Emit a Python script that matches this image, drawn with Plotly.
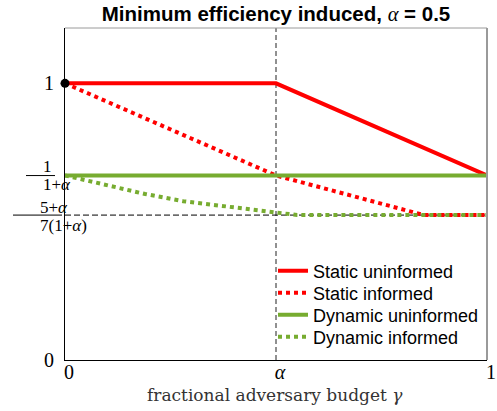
import plotly.graph_objects as go

alpha = 0.5
y_dyn = 1 / (1 + alpha)                  # 1/(1+alpha)
y_low = (5 + alpha) / (7 * (1 + alpha))  # (5+alpha)/(7(1+alpha))

gamma_static_unf = [0, 0.5, 1]
eff_static_unf = [1, 1, 0.667]

gamma_static_inf = [0, 0.5, 0.85, 1]
eff_static_inf = [1, 0.667, 0.524, 0.524]

gamma_dyn_unf = [0, 1]
eff_dyn_unf = [0.667, 0.667]

gamma_dyn_inf = [0, 0.09, 0.19, 0.28, 0.39, 0.49, 0.55, 1]
eff_dyn_inf = [0.667, 0.634, 0.600, 0.574, 0.553, 0.536, 0.524, 0.524]

x_tickvals = [0, alpha, 1]
x_ticktext = ["0", "<i>α</i>", "1"]
y_tickvals = [0, 1]
y_ticktext = ["0", "1"]

YMAX = 1.2
RED = "#FF0000"
GREEN = "#77AC30"
SERIF = "Liberation Serif, Times New Roman, serif"
SANS = "Liberation Sans, Arial, sans-serif"

WIN_W, WIN_H = 497, 411
L, R, T, B = 65, 487, 28, 360          # plot area in pixels
PW, PH = R - L, B - T


def px_x(px):
    return (px - L) / PW


def px_y(py):
    return (B - py) / PH


fig = go.Figure()

fig.add_trace(go.Scatter(x=gamma_static_unf, y=eff_static_unf, mode="lines",
                         name="Static uninformed", line=dict(color=RED, width=4),
                         legend="legend"))
fig.add_trace(go.Scatter(x=gamma_static_inf, y=eff_static_inf, mode="lines",
                         name="Static informed", line=dict(color=RED, width=4, dash="dot"),
                         legend="legend2"))
fig.add_trace(go.Scatter(x=gamma_dyn_unf, y=eff_dyn_unf, mode="lines",
                         name="Dynamic uninformed", line=dict(color=GREEN, width=4),
                         legend="legend3"))
fig.add_trace(go.Scatter(x=gamma_dyn_inf, y=eff_dyn_inf, mode="lines",
                         name="Dynamic informed", line=dict(color=GREEN, width=4, dash="dot"),
                         legend="legend4"))
fig.add_trace(go.Scatter(x=[0], y=[1], mode="markers", showlegend=False,
                         marker=dict(color="black", size=9), cliponaxis=False))

shapes = [
    dict(type="line", xref="x", yref="y", x0=alpha, x1=alpha, y0=0, y1=YMAX,
         line=dict(color="#222222", width=1, dash="5px,3px"), layer="below"),
    dict(type="line", xref="x", yref="y", x0=0, x1=1, y0=y_low, y1=y_low,
         line=dict(color="black", width=1, dash="6px,3px"), layer="below"),
    dict(type="line", xref="paper", yref="paper", x0=0, x1=1, y0=1, y1=1,
         line=dict(color="#9a9a9a", width=1)),
    dict(type="line", xref="paper", yref="paper", x0=1, x1=1, y0=0, y1=1,
         line=dict(color="#9a9a9a", width=2)),
    dict(type="line", xref="paper", yref="paper", x0=px_x(26), x1=px_x(55),
         y0=y_dyn / YMAX, y1=y_dyn / YMAX, line=dict(color="black", width=1)),
    dict(type="line", xref="paper", yref="paper", x0=px_x(13), x1=px_x(62),
         y0=y_low / YMAX, y1=y_low / YMAX, line=dict(color="black", width=1)),
]

frac_font = dict(family=SERIF, size=17, color="black")
annotations = [
    dict(text="1", x=px_x(40.5), y=y_dyn / YMAX, xref="paper", yref="paper",
         showarrow=False, yshift=9, font=frac_font),
    dict(text="1+<i>α</i>", x=px_x(40.5), y=y_dyn / YMAX, xref="paper", yref="paper",
         showarrow=False, yshift=-9, font=frac_font),
    dict(text="5+<i>α</i>", x=px_x(37.5), y=y_low / YMAX, xref="paper", yref="paper",
         showarrow=False, yshift=8, font=frac_font),
    dict(text="7(1+<i>α</i>)", x=px_x(37.5), y=y_low / YMAX, xref="paper", yref="paper",
         showarrow=False, yshift=-10, font=frac_font),
    # x-axis title
    dict(text="fractional adversary budget <i>γ</i>", x=px_x(275), y=px_y(395),
         xref="paper", yref="paper", xanchor="center", yanchor="middle", showarrow=False,
         font=dict(family="DejaVu Serif, serif", size=17, color="#333333")),
]

leg_common = dict(x=px_x(273), xanchor="left", yanchor="middle",
                  bgcolor="rgba(0,0,0,0)", borderwidth=0,
                  font=dict(family=SANS, size=18, color="black"))
leg_centers = [271, 293, 315, 337]

fig.update_layout(
    width=WIN_W, height=WIN_H,
    margin=dict(l=L, r=WIN_W - R, t=T, b=WIN_H - B, autoexpand=False),
    paper_bgcolor="white", plot_bgcolor="white",
    title=dict(
        text="<b>Minimum efficiency induced, </b><span style=\"font-family:Liberation Serif;font-style:italic\">α</span><b> = 0.5</b>",
        x=0.5, xref="paper", xanchor="center",
        y=1 - 14 / WIN_H, yref="container", yanchor="middle",
        font=dict(family=SANS, size=20.5, color="black")),
    xaxis=dict(range=[0, 1], tickvals=x_tickvals, ticktext=x_ticktext, showgrid=False,
               zeroline=False, showline=True, linecolor="black", linewidth=1, ticks="",
               automargin=False, ticklabeloverflow="allow",
               tickfont=dict(family=SERIF, size=20, color="black"), ticklabelshift=4,
               ticklabelstandoff=-6),
    yaxis=dict(range=[0, YMAX], tickvals=y_tickvals, ticktext=y_ticktext, showgrid=False,
               zeroline=False, showline=True, linecolor="black", linewidth=1, ticks="",
               automargin=False,
               tickfont=dict(family=SERIF, size=20, color="black"), ticklabelstandoff=6),
    legend=dict(y=px_y(leg_centers[0]), **leg_common),
    legend2=dict(y=px_y(leg_centers[1]), **leg_common),
    legend3=dict(y=px_y(leg_centers[2]), **leg_common),
    legend4=dict(y=px_y(leg_centers[3]), **leg_common),
    shapes=shapes,
    annotations=annotations,
)

# remove the browser's default 8px body margin so the figure fills the window
fig.write_html("out.html", config={"displayModeBar": False},
               post_script="document.body.style.margin='0';")
